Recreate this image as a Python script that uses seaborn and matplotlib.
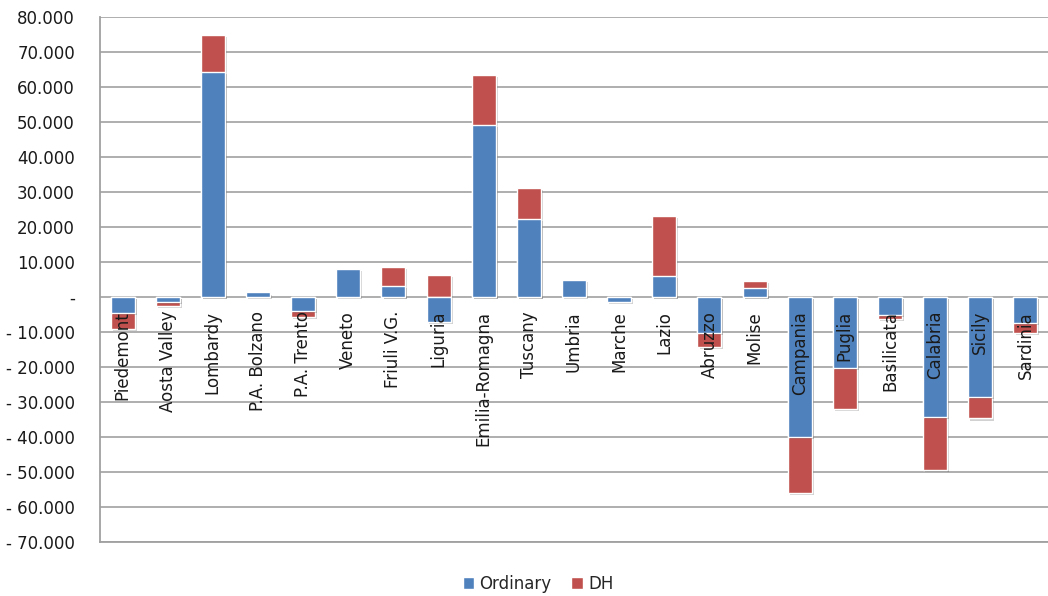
import matplotlib
matplotlib.use("Agg")
import matplotlib.pyplot as plt
import matplotlib.patheffects as pe
from matplotlib.patches import Patch
from matplotlib.ticker import FuncFormatter, MultipleLocator
import numpy as np
import pandas as pd
import seaborn as sns

# Regional balances, split by component
regions = [
    "Piedemont", "Aosta Valley", "Lombardy", "P.A. Bolzano", "P.A. Trento",
    "Veneto", "Friuli V.G.", "Liguria", "Emilia-Romagna", "Tuscany",
    "Umbria", "Marche", "Lazio", "Abruzzo", "Molise", "Campania",
    "Puglia", "Basilicata", "Calabria", "Sicily", "Sardinia",
]
ordinary = [
    -4500, -1500, 64400, 1300, -3900,
    7900, 3100, -7000, 49100, 22300,
    5000, -1300, 6000, -10400, 2700, -40100,
    -20200, -5200, -34400, -28500, -7300,
]
dh = [
    -4700, -1000, 10600, 0, -1900,
    0, 5600, 6300, 14300, 8800,
    0, 0, 17100, -3800, 1900, -15800,
    -11800, -1000, -15000, -6200, -2900,
]
series_names = ["Ordinary", "DH"]
series_colors = ["#4F81BD", "#C0504D"]

sns.set_theme(style="white")
plt.rcParams["font.family"] = ["DejaVu Sans"]

ord_arr = np.array(ordinary, dtype=float)
dh_arr = np.array(dh, dtype=float)
# DH stacks on top of Ordinary when both share a sign, otherwise grows from zero
dh_top = np.where(np.sign(ord_arr) == np.sign(dh_arr), ord_arr + dh_arr, dh_arr)

df = pd.DataFrame({"region": regions, "ordinary": ord_arr, "dh_top": dh_top})

fig = plt.figure(figsize=(10.48, 5.96), dpi=100)
ax = fig.add_axes([100 / 1048, 54 / 596, 948 / 1048, 525 / 596])

shadow = [pe.withSimplePatchShadow(offset=(1.5, -1.5), shadow_rgbFace="#000000", alpha=0.18)]

sns.barplot(data=df, x="region", y="dh_top", order=regions, color=series_colors[1],
            saturation=1, width=0.53, errorbar=None, ax=ax,
            edgecolor="white", linewidth=1.0, zorder=3)
sns.barplot(data=df, x="region", y="ordinary", order=regions, color=series_colors[0],
            saturation=1, width=0.53, errorbar=None, ax=ax,
            edgecolor="white", linewidth=1.0, zorder=3)
for p in ax.patches:
    p.set_path_effects(shadow)

ax.set_ylim(-70000, 80000)
ax.set_xlim(-0.5, len(regions) - 0.5)
ax.yaxis.set_major_locator(MultipleLocator(10000))


def fmt(v, _pos):
    v = int(round(v))
    if v == 0:
        return "-"
    s = f"{abs(v):,}".replace(",", ".")
    return f"- {s}" if v < 0 else s


ax.yaxis.set_major_formatter(FuncFormatter(fmt))
ax.grid(axis="y", color="#A8A8A8", linewidth=1.3, zorder=0)
ax.set_axisbelow(True)
for side in ["top", "right"]:
    ax.spines[side].set_visible(False)
for side in ["left", "bottom"]:
    ax.spines[side].set_color("#A0A0A0")
    ax.spines[side].set_linewidth(1.3)
ax.tick_params(axis="y", length=0, pad=18, labelsize=12, labelcolor="#1a1a1a")
ax.tick_params(axis="x", length=0, labelbottom=False)
ax.set_xlabel("")
ax.set_ylabel("")

# Category names sit just under the zero line, rotated
for i, name in enumerate(regions):
    ax.annotate(name, xy=(i, 0), xytext=(0, -10), textcoords="offset points",
                rotation=90, ha="center", va="top", fontsize=12,
                color="#1a1a1a", zorder=5)

handles = [Patch(facecolor=c, edgecolor="white", label=n)
           for c, n in zip(series_colors, series_names)]
fig.legend(handles=handles, loc="center", bbox_to_anchor=(538 / 1048, 1 - 584 / 596),
           ncol=2, frameon=False, fontsize=12, handlelength=0.7, handleheight=0.7,
           handletextpad=0.3, columnspacing=1.2)

fig.savefig("out.png", dpi=100)
